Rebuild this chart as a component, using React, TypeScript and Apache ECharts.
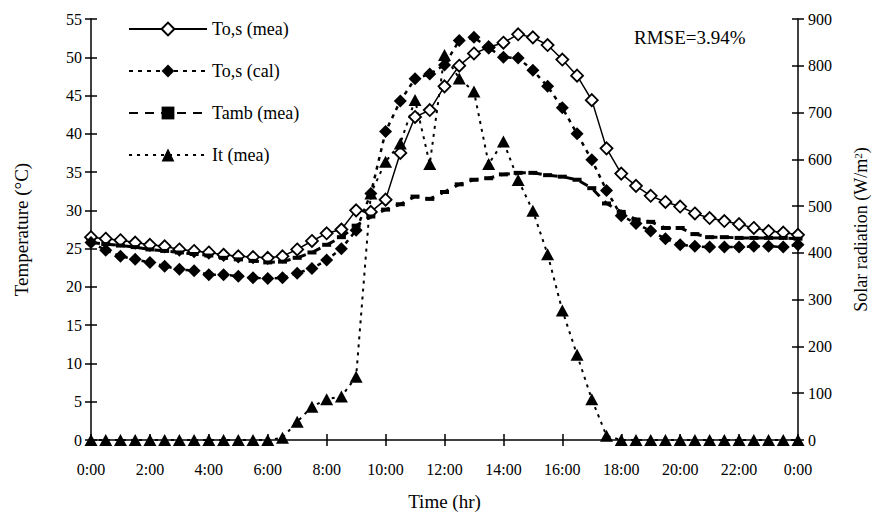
import React, { useEffect, useRef } from "react";
import * as echarts from "echarts";

const timeLabels: string[] = [];
for (let i = 0; i <= 48; i++) {
  timeLabels.push(`${Math.floor(i / 2) % 24}:${i % 2 ? "30" : "00"}`);
}

const tosMea = [
  26.5, 26.3, 26.1, 25.8, 25.5, 25.3, 24.9, 24.7, 24.5, 24.2, 24.0, 23.9, 23.8,
  24.0, 24.9, 26.0, 27.0, 27.5, 30.0, 29.8, 31.4, 37.5, 42.2, 43.1, 46.2, 48.9,
  50.5, 51.3, 51.9, 53.0, 52.6, 51.6, 49.7, 47.6, 44.4, 38.1, 34.8, 33.2, 31.9,
  31.1, 30.5, 29.6, 29.0, 28.6, 28.2, 27.7, 27.3, 27.1, 26.8,
];
const tosCal = [
  25.8, 24.8, 24.0, 23.6, 23.2, 22.7, 22.3, 22.1, 21.6, 21.6, 21.4, 21.2, 21.1,
  21.2, 21.8, 22.4, 23.5, 25.0, 27.4, 32.2, 40.3, 44.3, 47.2, 47.8, 49.0, 52.2,
  52.6, 51.2, 50.0, 49.9, 48.3, 46.2, 43.4, 40.0, 36.6, 32.6, 29.3, 28.3, 27.3,
  26.3, 25.5, 25.3, 25.2, 25.2, 25.2, 25.3, 25.3, 25.2, 25.5,
];
const tambMea = [
  25.8, 25.6, 25.4, 25.2, 24.9, 24.7, 24.5, 24.3, 24.1, 23.8, 23.6, 23.4, 23.2,
  23.3, 23.8, 24.5, 25.5, 26.5, 28.0, 29.2, 30.1, 30.8, 31.8, 31.5, 32.4, 33.4,
  34.0, 34.2, 34.7, 34.9, 34.9, 34.6, 34.4, 34.0, 32.9, 30.9, 29.8, 28.8, 28.5,
  27.7, 27.7, 26.9, 26.5, 26.5, 26.4, 26.4, 26.4, 26.4, 26.3,
];
const itMea = [
  0, 0, 0, 0, 0, 0, 0, 0, 0, 0, 0, 0, 0, 5, 39, 71, 87, 93, 135, 527, 595, 634,
  727, 590, 823, 773, 745, 590, 638, 556, 490, 397, 277, 182, 87, 9, 0, 0, 0, 0,
  0, 0, 0, 0, 0, 0, 0, 0, 0,
];

const tempTicks = { min: 0, max: 55, interval: 5 };
const radTicks = { min: 0, max: 900, interval: 100 };

const FONT = "'Times New Roman', 'Liberation Serif', 'DejaVu Serif', serif";

export default function App() {
  const ref = useRef<HTMLDivElement>(null);
  useEffect(() => {
    if (!ref.current) return;
    const chart = echarts.init(ref.current, undefined, { renderer: "svg" });
    const axisLine = { show: true, lineStyle: { color: "#000", width: 1.5 } };
    const label = { color: "#000", fontFamily: FONT, fontSize: 16 };
    chart.setOption({
      animation: false,
      backgroundColor: "#fff",
      textStyle: { fontFamily: FONT },
      grid: { left: 91, right: 80, top: 19, bottom: 72, containLabel: false, outerBoundsMode: "none" },
      legend: {
        orient: "vertical",
        left: 123,
        top: 15,
        itemWidth: 78,
        itemHeight: 16,
        itemGap: 24,
        textStyle: { color: "#000", fontFamily: FONT, fontSize: 18 },
        data: ["To,s (mea)", "To,s (cal)", "Tamb (mea)", "It (mea)"],
      },
      xAxis: [
        {
          type: "category",
          data: timeLabels,
          boundaryGap: false,
          axisLine,
          axisTick: { show: true, interval: 3, length: 6, lineStyle: { color: "#000", width: 1.5 } },
          axisLabel: { ...label, interval: 3, margin: 21 },
          splitLine: { show: false },
          name: "Time (hr)",
          nameLocation: "middle",
          nameGap: 52,
          nameTextStyle: { color: "#000", fontFamily: FONT, fontSize: 19 },
        },
        {
          type: "category",
          data: timeLabels,
          boundaryGap: false,
          position: "bottom",
          axisLine: { show: false },
          axisTick: { show: true, inside: true, interval: 3, length: 6, lineStyle: { color: "#000", width: 1.5 } },
          axisLabel: { show: false },
          splitLine: { show: false },
        },
      ],
      yAxis: [
        {
          type: "value",
          ...tempTicks,
          position: "left",
          axisLine,
          axisTick: { show: true, length: 6, lineStyle: { color: "#000", width: 1.5 } },
          axisLabel: { ...label, margin: 9 },
          splitLine: { show: false },
          name: "Temperature (°C)",
          nameLocation: "middle",
          nameGap: 60,
          nameRotate: 90,
          nameTextStyle: { color: "#000", fontFamily: FONT, fontSize: 19 },
        },
        {
          type: "value",
          ...radTicks,
          position: "right",
          axisLine,
          axisTick: { show: true, length: 6, lineStyle: { color: "#000", width: 1.5 } },
          axisLabel: { ...label, margin: 10 },
          splitLine: { show: false },
          name: "{a|Solar radiation (W/m}{s|2}{a|)}",
          nameLocation: "middle",
          nameGap: 54,
          nameRotate: 90,
          nameTextStyle: {
            color: "#000",
            fontFamily: FONT,
            fontSize: 18,
            rich: {
              a: { color: "#000", fontFamily: FONT, fontSize: 18 },
              s: { color: "#000", fontFamily: FONT, fontSize: 11, verticalAlign: "top", padding: [0, 0, 7, 0] },
            },
          },
        },
        {
          type: "value",
          ...tempTicks,
          position: "left",
          axisLine: { show: false },
          axisTick: { show: true, inside: true, length: 6, lineStyle: { color: "#000", width: 1.5 } },
          axisLabel: { show: false },
          splitLine: { show: false },
        },
        {
          type: "value",
          ...radTicks,
          position: "right",
          axisLine: { show: false },
          axisTick: { show: true, inside: true, length: 6, lineStyle: { color: "#000", width: 1.5 } },
          axisLabel: { show: false },
          splitLine: { show: false },
        },
      ],
      graphic: [
        {
          type: "text",
          left: 634,
          top: 28,
          style: { text: "RMSE=3.94%", fill: "#000", fontFamily: FONT, fontSize: 19 },
        },
      ],
      series: [
        {
          name: "To,s (mea)",
          type: "line",
          data: tosMea,
          yAxisIndex: 0,
          symbol: "diamond",
          symbolSize: 12,
          showAllSymbol: true,
          lineStyle: { color: "#000", width: 1.5, type: "solid" },
          itemStyle: { color: "#fff", borderColor: "#000", borderWidth: 1.8 },
        },
        {
          name: "To,s (cal)",
          type: "line",
          data: tosCal,
          yAxisIndex: 0,
          symbol: "diamond",
          symbolSize: 13,
          showAllSymbol: true,
          lineStyle: { color: "#000", width: 2.5, type: [4, 5] },
          itemStyle: { color: "#000", borderColor: "#000", borderWidth: 0 },
        },
        {
          name: "Tamb (mea)",
          type: "line",
          data: tambMea,
          yAxisIndex: 0,
          symbol: "rect",
          symbolSize: [9, 4],
          showAllSymbol: true,
          lineStyle: { color: "#000", width: 3, type: [9, 7] },
          itemStyle: { color: "#000", borderWidth: 0 },
        },
        {
          name: "It (mea)",
          type: "line",
          data: itMea,
          yAxisIndex: 1,
          symbol: "triangle",
          symbolSize: [13, 12],
          showAllSymbol: true,
          lineStyle: { color: "#000", width: 2, type: [3, 5] },
          itemStyle: { color: "#000", borderWidth: 0 },
        },
      ],
    });
    return () => chart.dispose();
  }, []);
  return (
    <div
      ref={ref}
      style={{ position: "fixed", left: 0, top: 0, width: 878, height: 512, background: "#fff" }}
    />
  );
}
